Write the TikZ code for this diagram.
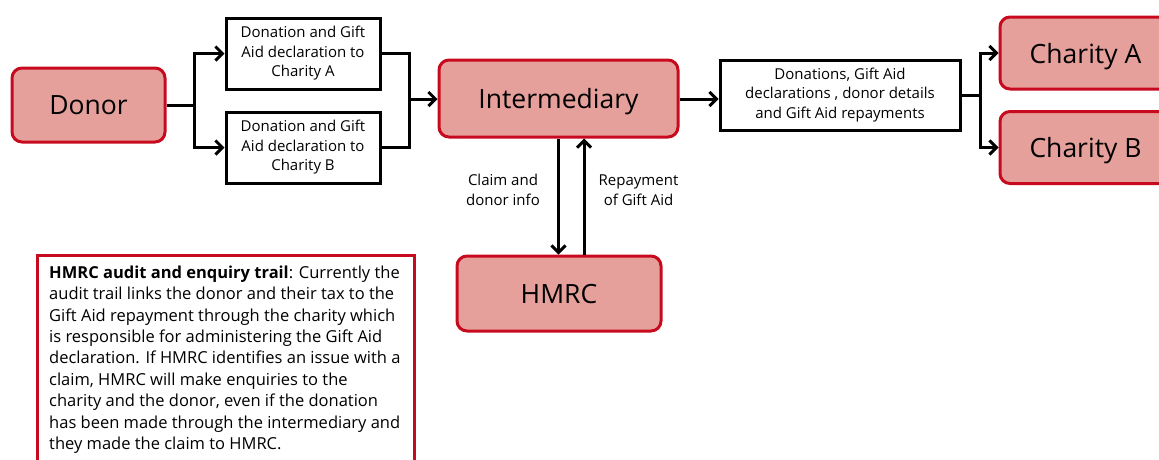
\documentclass[tikz,border=0pt]{standalone}
\usepackage{fontspec}
\setmainfont{Open Sans}
\usetikzlibrary{arrows.meta,calc}
\definecolor{rfill}{RGB}{230,160,156}
\definecolor{rborder}{RGB}{200,10,30}
\begin{document}
\begin{tikzpicture}[x=1pt,y=-1pt,
  redbox/.style={draw=rborder,fill=rfill,line width=3pt,rounded corners=10pt,inner sep=0pt,text height=19pt,text depth=0pt,font=\fontsize{26.5}{30}\selectfont},
  bigtext/.style={inner sep=0pt,text height=19pt,text depth=0pt,font=\fontsize{26.5}{30}\selectfont},
  whitebox/.style={draw=black,fill=white,line width=3pt,inner sep=0pt,align=center,font=\fontsize{15}{19.5}\selectfont},
  lbl/.style={inner sep=0pt,align=center,font=\fontsize{15}{20}\selectfont},
  conn/.style={line width=3pt},
  arr/.style={conn,-{Straight Barb[length=7pt,width=14pt]}}
]
\useasboundingbox (0,0) rectangle (1159,459);
\clip (0,0) rectangle (1159,459);

\node[redbox,minimum width=153pt,minimum height=74pt] (donor) at (88.5,105) {Donor};
\node[whitebox,minimum width=154pt,minimum height=71pt] (boxA) at (303,53.5) {Donation and Gift\\Aid declaration to\\Charity A};
\node[whitebox,minimum width=154pt,minimum height=71pt] (boxB) at (303,147.5) {Donation and Gift\\Aid declaration to\\Charity B};
\node[redbox,minimum width=239pt,minimum height=77pt] (inter) at (558.5,98.5) {Intermediary};
\node[redbox,minimum width=204pt,minimum height=75pt] (hmrc) at (559,293.5) {HMRC};
\node[whitebox,minimum width=240pt,minimum height=70pt] (dons) at (840,95) {Donations, Gift Aid\\declarations , donor details\\and Gift Aid repayments};
\node[redbox,minimum width=200pt,minimum height=72pt] (charA) at (1100,53) {};
\node[redbox,minimum width=200pt,minimum height=72pt] (charB) at (1100,147.5) {};
\node[bigtext] (charAt) at (1085.5,53.5) {Charity A};
\node[bigtext] (charBt) at (1085.5,148) {Charity B};

\node[lbl] (claim) at (503,190) {Claim and\\donor info};
\node[lbl] (repay) at (638.5,190) {Repayment\\of Gift Aid};

% donor split
\coordinate (s1) at (194,105);
\draw[conn] (donor.east) -- (s1);
\draw[arr] (s1) |- (boxA.west);
\draw[arr] (s1) |- (boxB.west);
% merge
\coordinate (m1) at (409,99);
\draw[conn] (boxA.east) -| (m1);
\draw[conn] (boxB.east) -| (m1);
\draw[arr] (m1) -- (inter.west |- m1);
% to donations
\draw[arr] (inter.east |- m1) -- (dons.west |- m1);
% charity split
\coordinate (s2) at (980,95);
\draw[conn] (dons.east) -- (s2);
\draw[arr] (s2) |- (charA.west);
\draw[arr] (s2) |- (charB.west);
% HMRC
\draw[arr] (inter.south) -- (inter.south |- hmrc.north);
\coordinate (up) at ($(hmrc.north)+(25,0)$);
\draw[arr] (up) -- (up |- inter.south);

% audit box
\draw[draw=rborder,line width=3pt] (37,255) rectangle (414,500);
\node[inner sep=0pt,anchor=north west,align=left,font=\fontsize{16.5}{21.4}\selectfont] (audit) at (49,265.5)
{\textbf{HMRC audit and enquiry trail}: Currently the\\
audit trail links the donor and their tax to the\\
Gift Aid repayment through the charity which\\
is responsible for administering the Gift Aid\\
declaration. If HMRC identifies an issue with a\\
claim, HMRC will make enquiries to the\\
charity and the donor, even if the donation\\
has been made through the intermediary and\\
they made the claim to HMRC.};
\end{tikzpicture}
\end{document}
